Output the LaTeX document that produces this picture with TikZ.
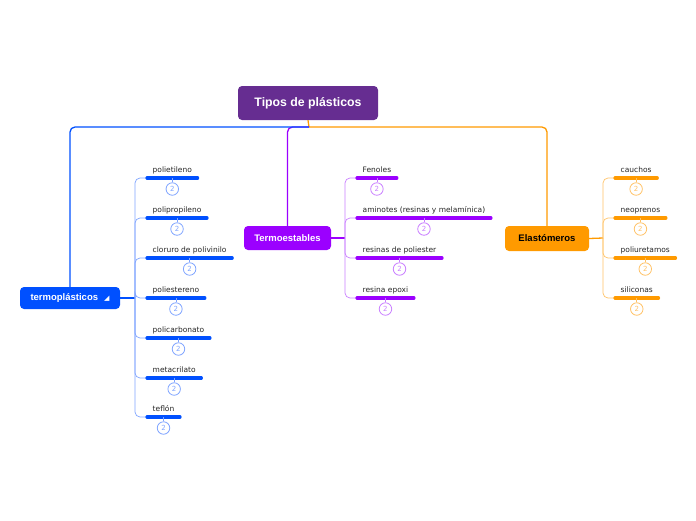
\documentclass[tikz,border=0pt]{standalone}
\usepackage{fontspec}
\setmainfont{Liberation Sans}
\newfontfamily\hojafont{DejaVu Sans}
\usetikzlibrary{positioning}
\definecolor{raizmorado}{HTML}{662D91}
\definecolor{tpazul}{HTML}{0050FF}
\definecolor{tpclaro}{HTML}{7FA4FF}
\definecolor{temorado}{HTML}{9B00FF}
\definecolor{teclaro}{HTML}{C97FFF}
\definecolor{elnaranja}{HTML}{FF9A00}
\definecolor{elclaro}{HTML}{FFC266}

\tikzset{
  caja/.style={rounded corners=4pt,text=white,inner sep=0pt,font=\fontsize{9.5}{11}\selectfont\bfseries},
  hoja/.style={anchor=south west,inner xsep=5.5pt,inner ysep=3.5pt,text height=5.5pt,text depth=1.5pt,text=black!85,font=\hojafont\fontsize{7.5}{8}\selectfont},
  barra/.style={line width=3.2pt,line cap=round},
  cuenta/.style={circle,draw,fill=white,line width=0.8pt,minimum size=12.5pt,inner sep=0pt,font=\hojafont\fontsize{7}{7}\selectfont},
  rama/.style={line width=0.7pt,rounded corners=5pt},
  tallo/.style={line width=1.3pt,rounded corners=5pt}
}

\begin{document}
\begin{tikzpicture}[x=1pt,y=-1pt]
\useasboundingbox (0,0) rectangle (696,520);

% nodos principales
\node[caja,fill=raizmorado,minimum width=140pt,minimum height=34pt,font=\fontsize{12.3}{14}\selectfont\bfseries] (raiz) at (308,103) {Tipos de plásticos};
\node[caja,fill=tpazul,minimum width=100pt,minimum height=22pt] (tp) at (70,298) {termoplásticos\hspace{6pt}{\hojafont\fontsize{7}{7}\selectfont ◢}};
\node[caja,fill=temorado,minimum width=87pt,minimum height=24pt] (te) at (287.5,238) {Termoestables};
\node[caja,fill=elnaranja,text=black,minimum width=84pt,minimum height=25pt] (el) at (547,238.5) {Elastómeros};

\coordinate (rc) at (309,127);
\draw[tallo,elnaranja] (raiz.south) -- (rc);
\draw[tallo,temorado] (rc) -| (te.north);
\draw[tallo,tpazul] (rc) -| (tp.north);
\draw[tallo,elnaranja] (rc) -| (el.north);

% termoplásticos
\coordinate (tpc) at (135,298);
\draw[tallo,tpazul] (tp.east) -- (tpc);
\foreach \nom/\y [count=\i] in {polietileno/178,polipropileno/218,cloruro de polivinilo/258,poliestereno/298,policarbonato/338,metacrilato/378,teflón/417}{
  \node[hoja] (tp\i) at (147,\y) {\nom};
  \draw[rama,tpclaro] (tpc) |- (tp\i.south west);
  \draw[barra,tpazul] (tp\i.south west) -- (tp\i.south east);
  \node[cuenta,draw=tpclaro,text=tpclaro] (tpn\i) at ([yshift=-11pt]tp\i.south) {2};
  \draw[rama,tpclaro] (tp\i.south) -- (tpn\i.north);
}

% termoestables
\coordinate (tec) at (345,238);
\draw[tallo,temorado] (te.east) -- (tec);
\foreach \nom/\y [count=\i] in {Fenoles/178,aminotes (resinas y melamínica)/218,resinas de poliester/258,resina epoxi/298}{
  \node[hoja] (te\i) at (357,\y) {\nom};
  \draw[rama,teclaro] (tec) |- (te\i.south west);
  \draw[barra,temorado] (te\i.south west) -- (te\i.south east);
  \node[cuenta,draw=teclaro,text=teclaro] (ten\i) at ([yshift=-11pt]te\i.south) {2};
  \draw[rama,teclaro] (te\i.south) -- (ten\i.north);
}

% elastómeros
\coordinate (elc) at (603,238);
\draw[tallo,elnaranja] (el.east) -- (elc);
\foreach \nom/\y [count=\i] in {cauchos/178,neoprenos/218,poliuretamos/258,siliconas/298}{
  \node[hoja] (el\i) at (615,\y) {\nom};
  \draw[rama,elclaro] (elc) |- (el\i.south west);
  \draw[barra,elnaranja] (el\i.south west) -- (el\i.south east);
  \node[cuenta,draw=elclaro,text=elclaro] (eln\i) at ([yshift=-11pt]el\i.south) {2};
  \draw[rama,elclaro] (el\i.south) -- (eln\i.north);
}
\end{tikzpicture}
\end{document}
